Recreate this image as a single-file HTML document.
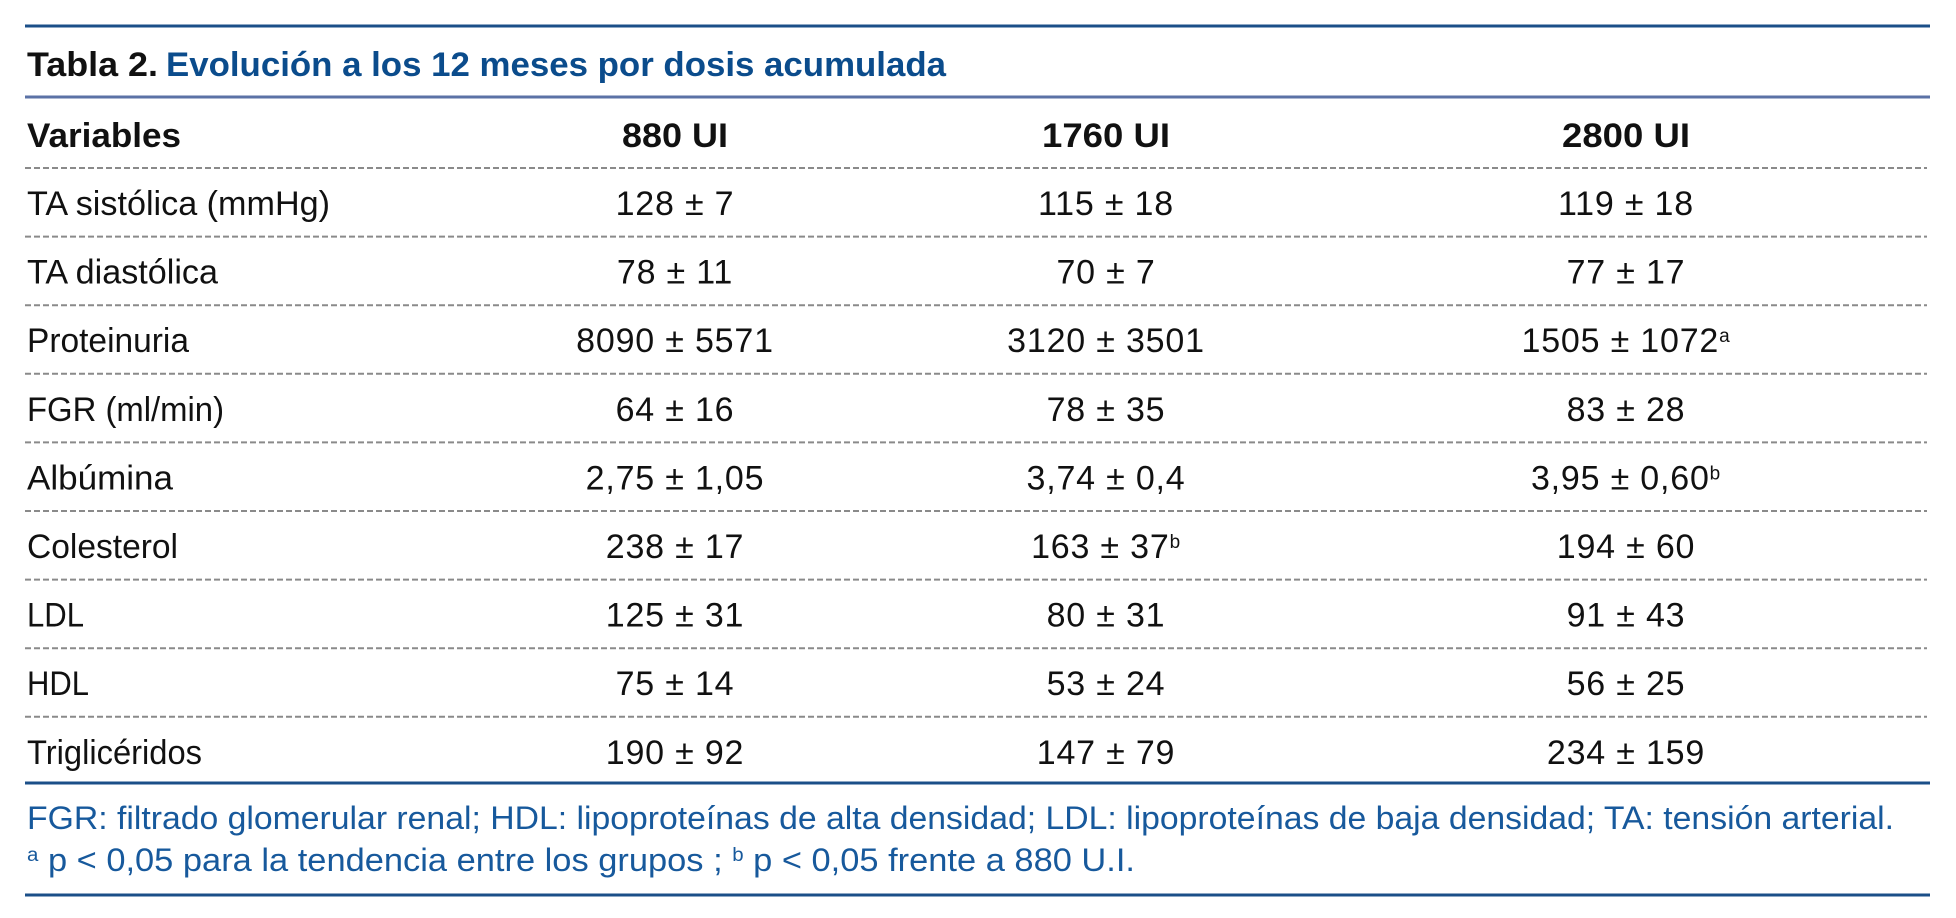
<!DOCTYPE html>
<html><head><meta charset="utf-8"><style>
html,body{margin:0;padding:0;background:#fff;}
svg{display:block;}
text{font-family:"Liberation Sans",sans-serif;}
</style></head><body>
<svg width="1956" height="918" viewBox="0 0 1956 918">
<line x1="25" y1="26" x2="1930" y2="26" stroke="#1b4f88" stroke-width="3"/>
<text x="27" y="76" font-size="34" font-weight="bold" fill="#111" textLength="131" lengthAdjust="spacingAndGlyphs">Tabla 2.</text>
<text x="166" y="76" font-size="34" font-weight="bold" fill="#0b4c8c" textLength="780" lengthAdjust="spacingAndGlyphs">Evolución a los 12 meses por dosis acumulada</text>
<line x1="25" y1="97" x2="1930" y2="97" stroke="#5b72a6" stroke-width="3"/>
<g id="body"></g>
<line x1="25" y1="783" x2="1930" y2="783" stroke="#1b4f88" stroke-width="3"/>
<text x="27" y="829" font-size="32" fill="#17599c" textLength="1867" lengthAdjust="spacingAndGlyphs">FGR: filtrado glomerular renal; HDL: lipoproteínas de alta densidad; LDL: lipoproteínas de baja densidad; TA: tensión arterial.</text>
<text x="27" y="871" font-size="32" fill="#17599c" textLength="1108" lengthAdjust="spacingAndGlyphs"><tspan font-size="19" baseline-shift="super">a</tspan> p &lt; 0,05 para la tendencia entre los grupos ; <tspan font-size="19" baseline-shift="super">b</tspan> p &lt; 0,05 frente a 880 U.I.</text>
<line x1="25" y1="895" x2="1930" y2="895" stroke="#1b4f88" stroke-width="3"/>
</svg>
<script>
const headers=["880 UI","1760 UI","2800 UI"];
const headerW=[106,128,128];
const colX=[675,1106,1626];
const labels=["TA sistólica (mmHg)","TA diastólica","Proteinuria","FGR (ml/min)","Albúmina","Colesterol","LDL","HDL","Triglicéridos"];
const labelW=[303,191,162,197,146,151,57,62,175];
const col880=["128 ± 7","78 ± 11","8090 ± 5571","64 ± 16","2,75 ± 1,05","238 ± 17","125 ± 31","75 ± 14","190 ± 92"];
const col1760=["115 ± 18","70 ± 7","3120 ± 3501","78 ± 35","3,74 ± 0,4","163 ± 37|b","80 ± 31","53 ± 24","147 ± 79"];
const col2800=["119 ± 18","77 ± 17","1505 ± 1072|a","83 ± 28","3,95 ± 0,60|b","194 ± 60","91 ± 43","56 ± 25","234 ± 159"];
const NS="http://www.w3.org/2000/svg";
const g=document.getElementById('body');
function t(x,y,str,attrs){const e=document.createElementNS(NS,'text');for(const k in attrs)e.setAttribute(k,attrs[k]);e.setAttribute('x',x);e.setAttribute('y',y);
 const p=str.split('|');e.textContent=p[0];
 if(p[1]){const s=document.createElementNS(NS,'tspan');s.setAttribute('font-size','19');s.setAttribute('baseline-shift','super');s.textContent=p[1];e.appendChild(s);}
 g.appendChild(e);return e;}
const hv=t(27,147,"Variables",{'font-size':'34','font-weight':'bold',fill:'#111',textLength:'154',lengthAdjust:'spacingAndGlyphs'});


headers.forEach((h,i)=>{const e=t(colX[i]-headerW[i]/2,147,h,{'font-size':'34','font-weight':'bold',fill:'#111',textLength:headerW[i],lengthAdjust:'spacingAndGlyphs'});
 
 });
const cols=[col880,col1760,col2800];
for(let i=0;i<labels.length;i++){
 const ly=168+68.6*i;
 const l=document.createElementNS(NS,'line');
 l.setAttribute('x1',25);l.setAttribute('x2',1927);l.setAttribute('y1',ly);l.setAttribute('y2',ly);
 l.setAttribute('stroke','#8a8a8a');l.setAttribute('stroke-width','2');l.setAttribute('stroke-dasharray','6,3');
 
 
 g.appendChild(l);
 const cy=ly+35+12;
 const le=t(27,cy,labels[i],{'font-size':'34',fill:'#111',textLength:labelW[i],lengthAdjust:'spacingAndGlyphs'});
 
 
 cols.forEach((c,j)=>{const e=t(colX[j],cy,c[i],{'font-size':'34',fill:'#111','text-anchor':'middle','letter-spacing':'0.8'});
  
  });
}
</script>
</body></html>
